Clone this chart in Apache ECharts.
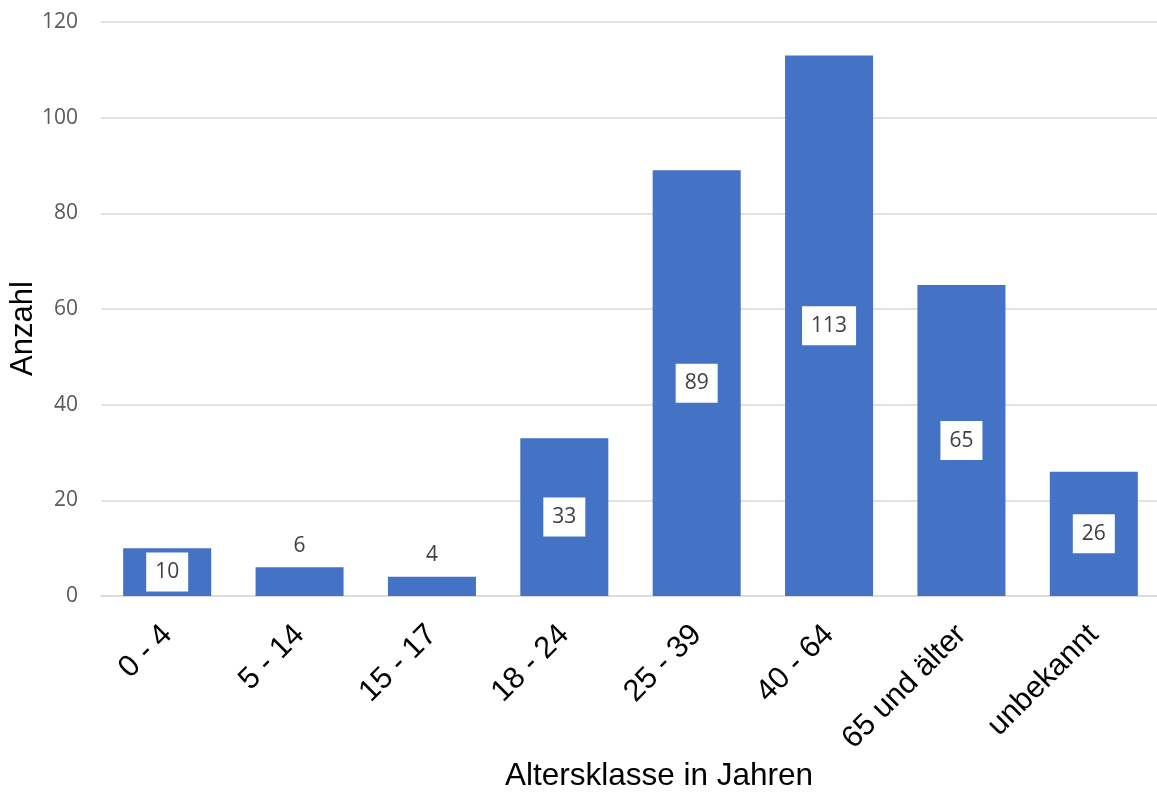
<!DOCTYPE html>
<html>
<head>
<meta charset="utf-8">
<script src="https://cdn.jsdelivr.net/npm/echarts@6/dist/echarts.min.js"></script>
<style>
html,body{margin:0;padding:0;background:#fff;}
#chart{width:1157px;height:794px;}
</style>
</head>
<body>
<div id="chart"></div>
<script>
const categories = ['0 - 4', '5 - 14', '15 - 17', '18 - 24', '25 - 39', '40 - 64', '65 und älter', 'unbekannt'];
const counts = [10, 6, 4, 33, 89, 113, 65, 26];
const labelOutside = [false, true, true, false, false, false, false, false];
const yTicks = { min: 0, max: 120, interval: 20 };
const xTitle = 'Altersklasse in Jahren';
const yTitle = 'Anzahl';

const chart = echarts.init(document.getElementById('chart'), null, { renderer: 'canvas' });

const insideLabel = {
  show: true,
  position: 'inside',
  color: '#404040',
  fontFamily: 'Open Sans',
  fontSize: 21,
  lineHeight: 21,
  backgroundColor: '#ffffff',
  padding: [9, 9]
};
const topLabel = {
  show: true,
  position: 'top',
  distance: 11,
  color: '#404040',
  fontFamily: 'Open Sans',
  fontSize: 21,
  lineHeight: 21,
  backgroundColor: 'transparent',
  padding: 0
};

const seriesData = counts.map((v, i) => ({
  value: v,
  label: labelOutside[i] ? topLabel : insideLabel
}));

chart.setOption({
  animation: false,
  backgroundColor: '#ffffff',
  grid: { left: 101, right: -3, top: 22, bottom: 198, containLabel: false, outerBoundsMode: 'none' },
  xAxis: {
    type: 'category',
    data: categories,
    axisLine: { show: true, lineStyle: { color: '#D9D9D9', width: 1.5 } },
    axisTick: { show: false },
    axisLabel: {
      rotate: 45,
      interval: 0,
      margin: 34,
      color: '#000000',
      fontFamily: 'Liberation Sans, Arial',
      fontSize: 30.5
    }
  },
  yAxis: {
    type: 'value',
    min: yTicks.min,
    max: yTicks.max,
    interval: yTicks.interval,
    axisLine: { show: false },
    axisTick: { show: false },
    splitLine: { show: true, lineStyle: { color: '#D9D9D9', width: 1.5 } },
    axisLabel: {
      margin: 23,
      color: '#595959',
      fontFamily: 'Open Sans',
      fontSize: 21
    }
  },
  series: [{
    type: 'bar',
    data: seriesData,
    barCategoryGap: '33.5%',
    itemStyle: { color: '#4472C4' }
  }],
  graphic: [
    {
      type: 'text',
      x: 659,
      y: 792,
      style: {
        text: xTitle,
        fill: '#000000',
        font: '31.5px "Liberation Sans", Arial',
        align: 'center',
        verticalAlign: 'bottom'
      }
    },
    {
      type: 'text',
      x: 23.5,
      y: 328.5,
      rotation: Math.PI / 2,
      style: {
        text: yTitle,
        fill: '#000000',
        font: '31px "Liberation Sans", Arial',
        align: 'center',
        verticalAlign: 'middle'
      }
    }
  ]
});
</script>
</body>
</html>
